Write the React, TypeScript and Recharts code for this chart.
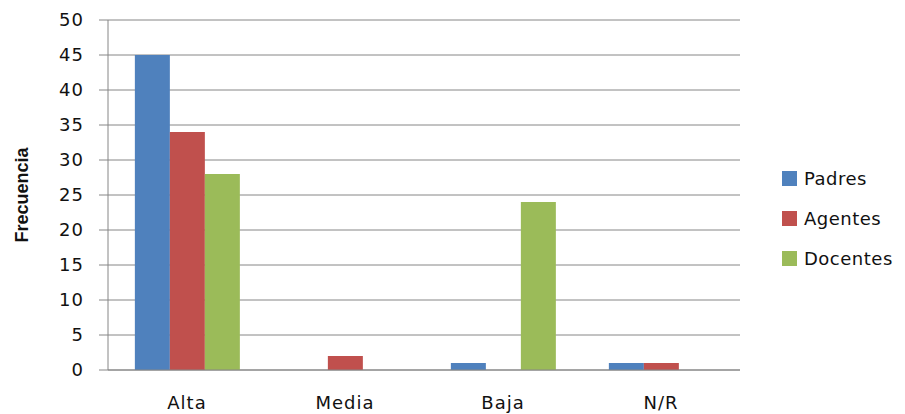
import React from 'react';
import { Bar, BarChart, CartesianGrid, Legend, XAxis, YAxis } from 'recharts';

const categories = ['Alta', 'Media', 'Baja', 'N/R'];
const padres = [45, 0, 1, 1];
const agentes = [34, 2, 0, 1];
const docentes = [28, 0, 24, 0];
const yTicks = [0, 5, 10, 15, 20, 25, 30, 35, 40, 45, 50];

const series = [
  { key: 'Padres', color: '#4F81BD' },
  { key: 'Agentes', color: '#C0504D' },
  { key: 'Docentes', color: '#9BBB59' },
];

const data = categories.map((name, i) => ({
  name,
  Padres: padres[i],
  Agentes: agentes[i],
  Docentes: docentes[i],
}));

const font = '"DejaVu Sans", sans-serif';

function LegendBox() {
  return (
    <div style={{ fontFamily: font, fontSize: 18, color: '#111', letterSpacing: 0.5 }}>
      {series.map((s) => (
        <div key={s.key} style={{ display: 'flex', alignItems: 'center', height: 40 }}>
          <span style={{ width: 15, height: 15, background: s.color, marginRight: 7, display: 'inline-block' }} />
          <span>{s.key}</span>
        </div>
      ))}
    </div>
  );
}

export default function App() {
  return (
    <div style={{ position: 'fixed', top: 0, left: 0, background: '#fff' }}>
      <BarChart
        width={905}
        height={414}
        data={data}
        margin={{ top: 20, right: 45, bottom: 0, left: 0 }}
        barCategoryGap="17%"
        barGap={0}
      >
        <CartesianGrid vertical={false} stroke="#868686" strokeWidth={1} />
        <XAxis
          dataKey="name"
          height={44}
          tickLine={false}
          axisLine={{ stroke: '#868686' }}
          tickMargin={20}
          tick={{ fill: '#111', fontSize: 18, fontFamily: font, letterSpacing: 1 }}
        />
        <YAxis
          width={108}
          domain={[0, 50]}
          ticks={yTicks}
          interval={0}
          tickSize={9}
          tickMargin={15}
          tickLine={{ stroke: '#868686' }}
          axisLine={{ stroke: '#868686' }}
          tick={{ fill: '#111', fontSize: 18, fontFamily: font, letterSpacing: 1 }}
          label={{
            content: ({ viewBox }: any) => {
              const x = viewBox.x + 22;
              const y = viewBox.y + viewBox.height / 2;
              return (
                <text
                  x={x}
                  y={y}
                  transform={`rotate(-90 ${x} ${y})`}
                  textAnchor="middle"
                  dominantBaseline="central"
                  fontFamily='"Liberation Sans", sans-serif'
                  fontWeight="bold"
                  style={{ fontSize: 18 }}
                  fill="#111"
                >
                  Frecuencia
                </text>
              );
            },
          }}
        />
        <Legend
          layout="vertical"
          align="right"
          verticalAlign="top"
          content={() => <LegendBox />}
          wrapperStyle={{ left: 782, top: 158, width: 120 }}
        />
        {series.map((s) => (
          <Bar key={s.key} dataKey={s.key} fill={s.color} isAnimationActive={false} />
        ))}
      </BarChart>
    </div>
  );
}
